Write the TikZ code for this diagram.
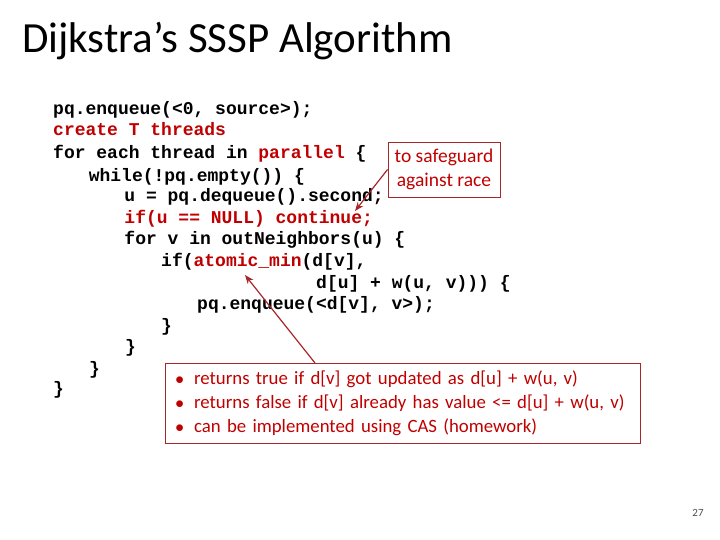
\documentclass[tikz,border=0pt]{standalone}
\usepackage{fontspec}
\usetikzlibrary{arrows.meta}
\setmainfont{Carlito}
\setmonofont{Liberation Mono}
\definecolor{dred}{HTML}{C00000}
\definecolor{bred}{HTML}{A8262A}
\begin{document}
\begin{tikzpicture}[x=1pt,y=-1pt,
  code/.style={anchor=base west,inner sep=0pt,font=\fontsize{18}{20}\ttfamily\bfseries},
  note/.style={draw=bred,line width=0.9pt,inner sep=0pt},
  arr/.style={draw=bred,line width=1.2pt,-{Stealth[length=9pt,width=7pt]}}]
\useasboundingbox (0,0) rectangle (720,540);
\node[anchor=base west,inner sep=0pt,font=\fontsize{43}{48}\selectfont] (title) at (22,53) {Dijkstra’s SSSP Algorithm};
\def\cw{10.8}
\node[code] (l1) at (53,115) {pq.enqueue(<0, source>);};
\node[code,text=dred] (l2) at (53,136) {create T threads};
\node[code] (l3) at (53,159) {for each thread in \textcolor{dred}{parallel} \{};
\node[code] (l4) at (53+3.3*\cw,182) {while(!pq.empty()) \{};
\node[code] (l5) at (53+6.6*\cw,202) {u = pq.dequeue().second;};
\node[code,text=dred] (l6) at (53+6.6*\cw,223) {if(u == NULL) continue;};
\node[code] (l7) at (53+6.6*\cw,244) {for v in outNeighbors(u) \{};
\node[code] (l8) at (161,266) {if(\textcolor{dred}{atomic\_min}(d[v],};
\node[code] (l9) at (316,288) {d[u] + w(u, v))) \{};
\node[code] (l10) at (197,309) {pq.enqueue(<d[v], v>);};
\node[code] (l11) at (161,331) {\}};
\node[code] (l12) at (125,352) {\}};
\node[code] (l13) at (89,374) {\}};
\node[code] (l14) at (53,394) {\}};
\node[note,minimum width=112pt,minimum height=55pt,align=center,text=dred,
  font=\fontsize{19.5}{24}\selectfont] (n1) at (444,169.5) {to safeguard\\against race};
\node[note,minimum width=475pt,minimum height=80pt,anchor=north west,text=dred,
  font=\fontsize{18.8}{24}\selectfont,align=left,text width=455pt,inner xsep=10pt] (n2) at (165,363)
 {$\bullet$\hspace{10pt}returns true if d[v] got updated as d[u] + w(u, v)\\
  $\bullet$\hspace{10pt}returns false if d[v] already has value <= d[u] + w(u, v)\\
  $\bullet$\hspace{10pt}can be implemented using CAS (homework)};
\coordinate (t1) at (355,211);
\coordinate (t2) at (245,275);
\coordinate (s2) at (315,363);
\draw[arr] (n1.west) -- (t1);
\draw[arr] (s2) -- (t2);
\node[font=\fontsize{11}{12}\selectfont,text=black!70] (pg) at (698,513) {27};
\end{tikzpicture}
\end{document}
